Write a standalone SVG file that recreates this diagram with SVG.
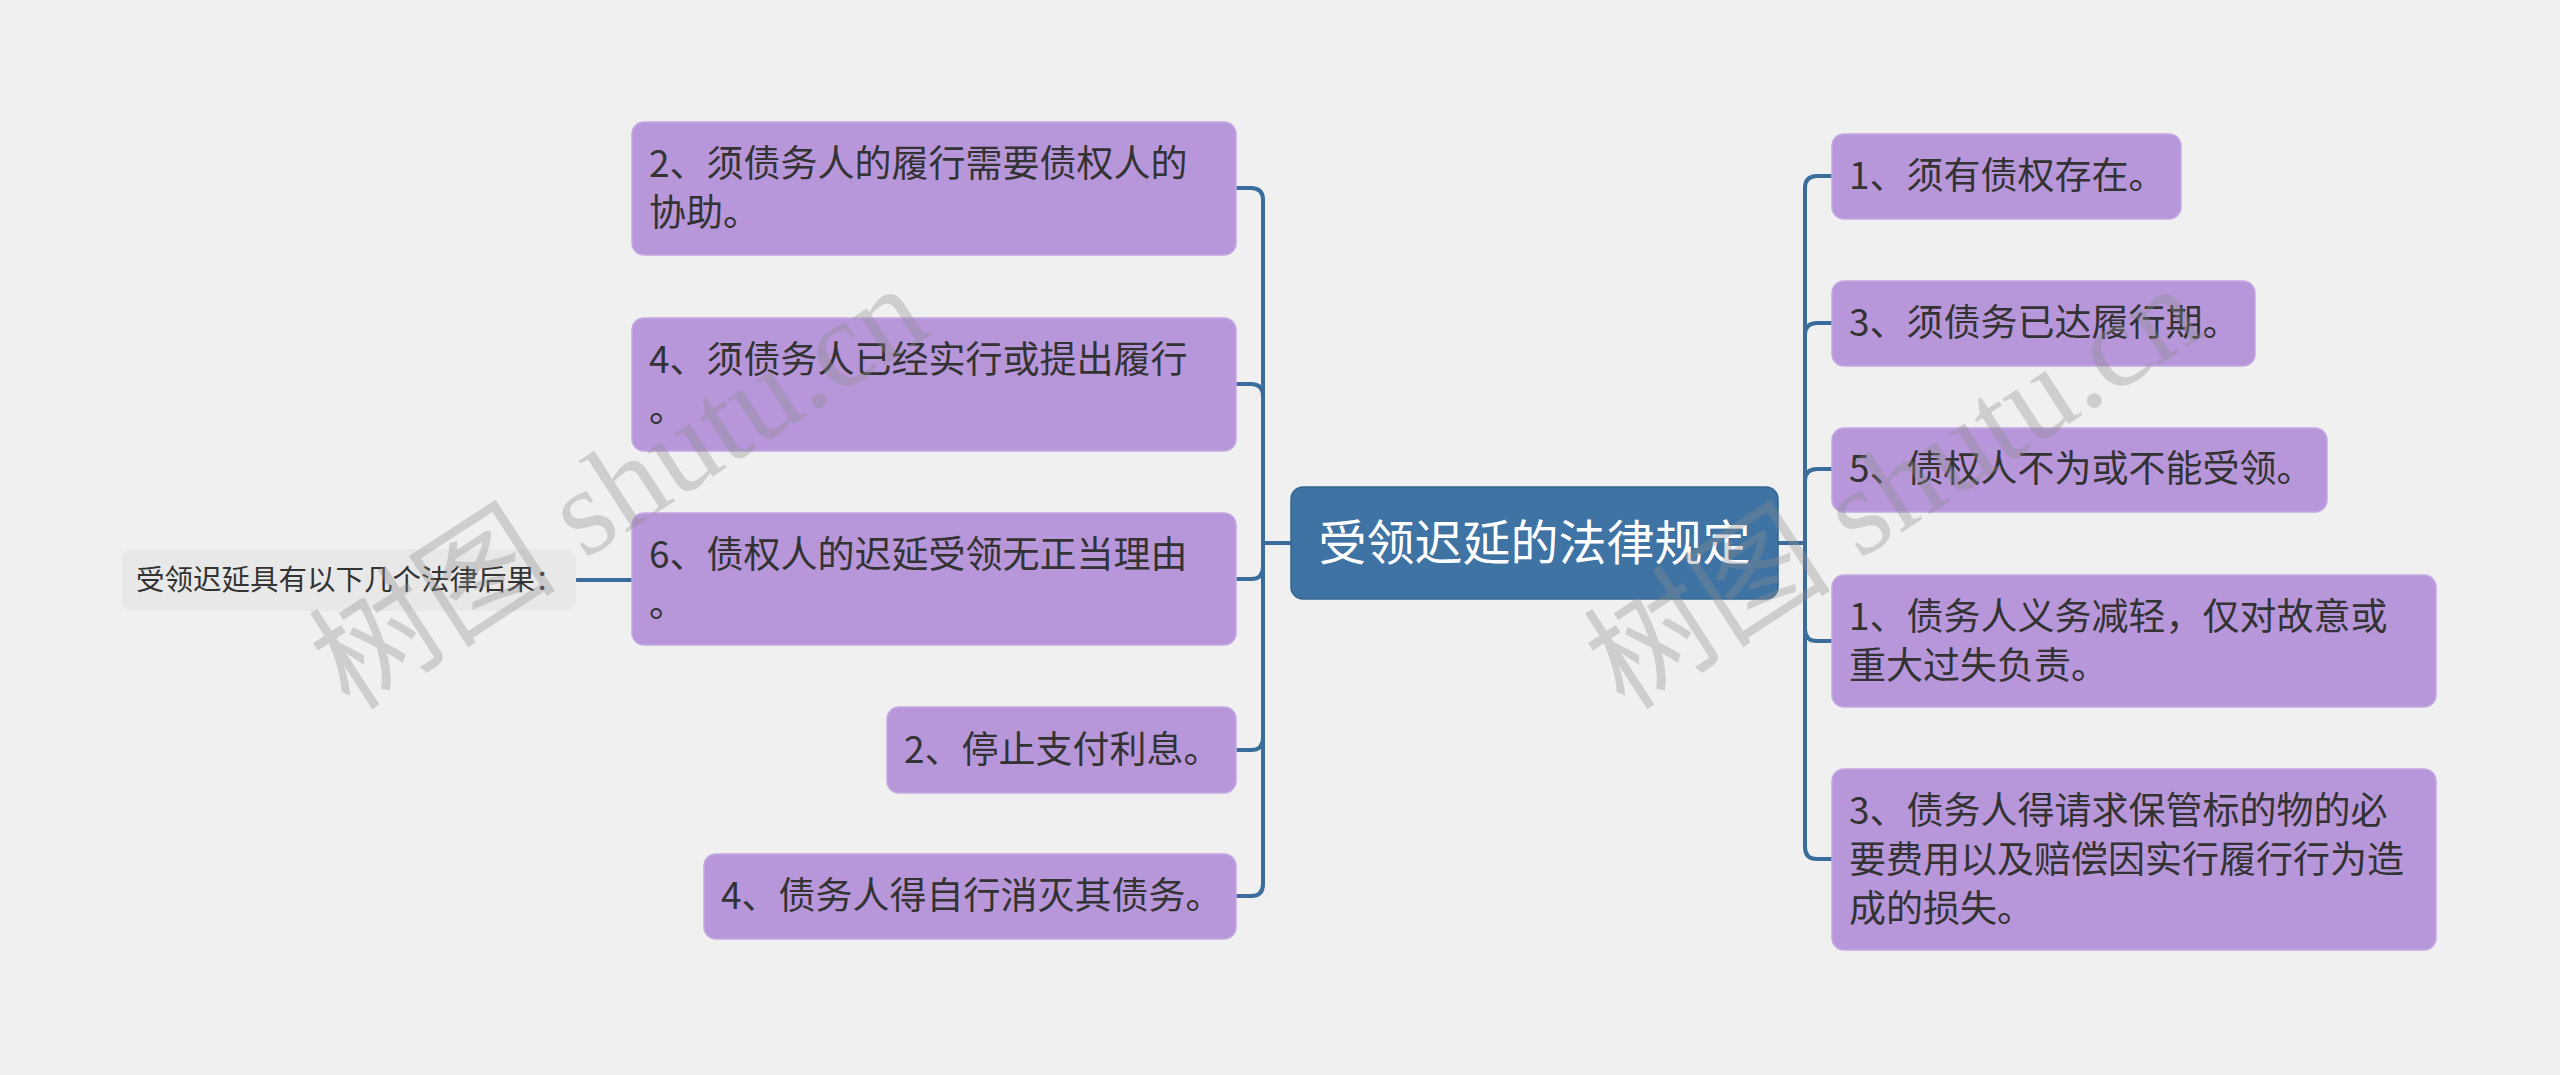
<svg xmlns="http://www.w3.org/2000/svg" width="2560" height="1075" viewBox="0 0 2560 1075">
<style>
.bg{fill:#f0f0f0}
.leaf{fill:#b796da;stroke:#c3a8e2;stroke-width:1.5}
.leaf-t{font-family:"Noto Sans CJK SC","Noto Sans",sans-serif;font-size:37px;fill:#333333}
.root{fill:#3f73a4;stroke:#36658f;stroke-width:1.5}
.root-t{font-family:"Noto Sans CJK SC","Noto Sans",sans-serif;font-size:48px;fill:#ffffff}
.sub{fill:#e8e8e8}
.sub-t{font-family:"Noto Sans CJK SC","Noto Sans",sans-serif;font-size:28.5px;fill:#333333}
.conn path{fill:none;stroke:#3a6d9b;stroke-width:4;stroke-linecap:round}
.wm{font-family:"Liberation Serif","Noto Sans CJK SC",serif;font-size:124px;fill:#8c8c8c;fill-opacity:0.34}
</style>
<rect class="bg" x="0" y="0" width="2560" height="1075"/>

<g id="connectors" class="conn">
  <path d="M1291,543 H1263"/>
  <path d="M1263,543 V200 Q1263,188 1251,188 H1237"/>
  <path d="M1263,543 V396 Q1263,384 1251,384 H1237"/>
  <path d="M1263,543 V567 Q1263,579 1251,579 H1237"/>
  <path d="M1263,543 V738 Q1263,750 1251,750 H1237"/>
  <path d="M1263,543 V884 Q1263,896 1251,896 H1237"/>
  <path d="M1778,543 H1805"/>
  <path d="M1805,543 V188 Q1805,176 1817,176 H1833"/>
  <path d="M1805,543 V335 Q1805,323 1817,323 H1833"/>
  <path d="M1805,543 V481 Q1805,469 1817,469 H1833"/>
  <path d="M1805,543 V629 Q1805,641 1817,641 H1833"/>
  <path d="M1805,543 V847 Q1805,859 1817,859 H1833"/>
  <path d="M577,580 H632"/>
</g>

<g id="root">
  <rect class="root" x="1291" y="487" width="487" height="112" rx="12"/>
  <text class="root-t" x="1534.5" y="560" text-anchor="middle">受领迟延的法律规定</text>
</g>

<g id="L1">
  <rect class="leaf" x="632" y="122" width="604" height="133" rx="12"/>
  <text class="leaf-t" x="649" y="177">2、须债务人的履行需要债权人的</text>
  <text class="leaf-t" x="649" y="226">协助。</text>
</g>
<g id="L2">
  <rect class="leaf" x="632" y="318" width="604" height="133" rx="12"/>
  <text class="leaf-t" x="649" y="373">4、须债务人已经实行或提出履行</text>
  <text class="leaf-t" x="649" y="422">。</text>
</g>
<g id="L3">
  <rect class="leaf" x="632" y="513" width="604" height="132" rx="12"/>
  <text class="leaf-t" x="649" y="568">6、债权人的迟延受领无正当理由</text>
  <text class="leaf-t" x="649" y="617">。</text>
</g>
<g id="L4">
  <rect class="leaf" x="887" y="707" width="349" height="86" rx="12"/>
  <text class="leaf-t" x="904" y="763">2、停止支付利息。</text>
</g>
<g id="L5">
  <rect class="leaf" x="704" y="854" width="532" height="85" rx="12"/>
  <text class="leaf-t" x="721" y="909">4、债务人得自行消灭其债务。</text>
</g>

<g id="R1">
  <rect class="leaf" x="1832" y="134" width="349" height="85" rx="12"/>
  <text class="leaf-t" x="1849" y="189">1、须有债权存在。</text>
</g>
<g id="R2">
  <rect class="leaf" x="1832" y="281" width="423" height="85" rx="12"/>
  <text class="leaf-t" x="1849" y="336">3、须债务已达履行期。</text>
</g>
<g id="R3">
  <rect class="leaf" x="1832" y="428" width="495" height="84" rx="12"/>
  <text class="leaf-t" x="1849" y="482">5、债权人不为或不能受领。</text>
</g>
<g id="R4">
  <rect class="leaf" x="1832" y="575" width="604" height="132" rx="12"/>
  <text class="leaf-t" x="1849" y="630">1、债务人义务减轻，仅对故意或</text>
  <text class="leaf-t" x="1849" y="679">重大过失负责。</text>
</g>
<g id="R5">
  <rect class="leaf" x="1832" y="769" width="604" height="181" rx="12"/>
  <text class="leaf-t" x="1849" y="824">3、债务人得请求保管标的物的必</text>
  <text class="leaf-t" x="1849" y="873">要费用以及赔偿因实行履行行为造</text>
  <text class="leaf-t" x="1849" y="922">成的损失。</text>
</g>

<g id="S1">
  <rect class="sub" x="122" y="549" width="454" height="62" rx="10"/>
  <text class="sub-t" x="136" y="590">受领迟延具有以下几个法律后果：</text>
</g>

<g id="watermarks">
  <text class="wm" transform="translate(350,712) rotate(-33)">树图 shutu.cn</text>
  <text class="wm" transform="translate(1625,712) rotate(-33)">树图 shutu.cn</text>
</g>
</svg>
